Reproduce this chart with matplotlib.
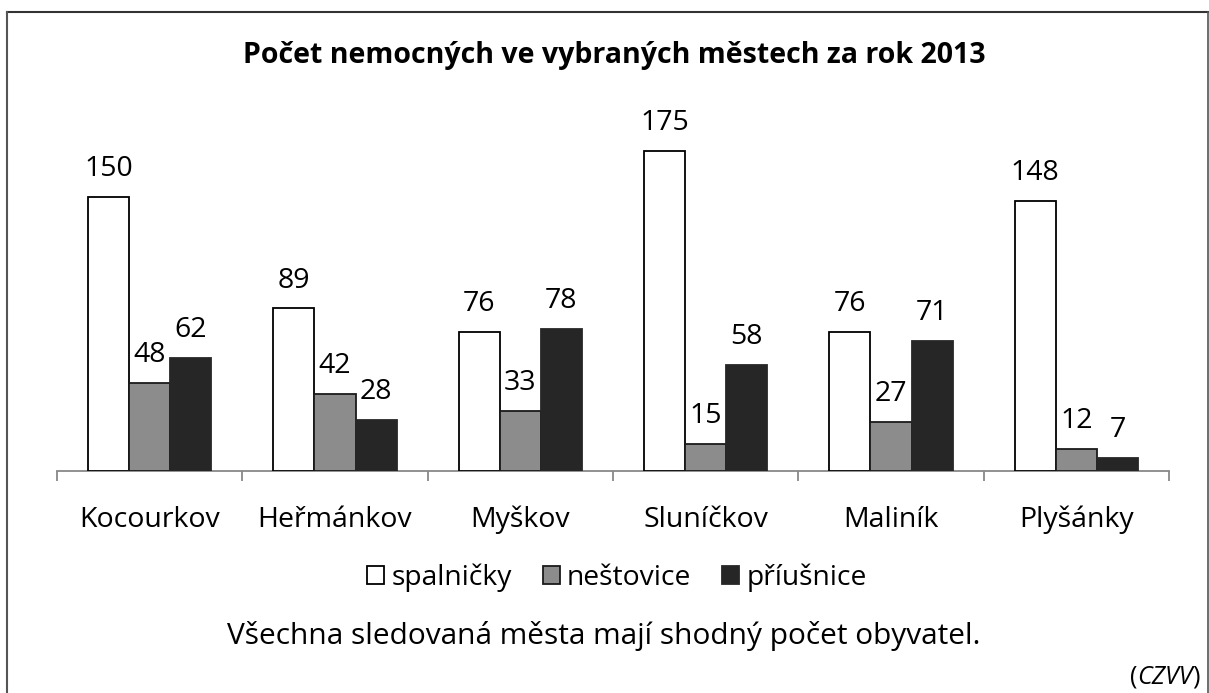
import numpy as np
import matplotlib
matplotlib.use("Agg")
import matplotlib.pyplot as plt
from matplotlib.lines import Line2D

# ---------------------------------------------------------------------------
# Data
# ---------------------------------------------------------------------------
mesta = ["Kocourkov", "Heřmánkov", "Myškov", "Sluníčkov", "Maliník", "Plyšánky"]
spalnicky = [150, 89, 76, 175, 76, 148]
nestovice = [48, 42, 33, 15, 27, 12]
priusnice = [62, 28, 78, 58, 71, 7]
nemoci = ["spalničky", "neštovice", "příušnice"]

TITLE = "Počet nemocných ve vybraných městech za rok 2013"
NOTE = "Všechna sledovaná města mají shodný počet obyvatel."

plt.rcParams["font.family"] = ["Open Sans", "DejaVu Sans"]
FS = 20.5

W, H = 1209, 693
fig = plt.figure(figsize=(W / 100, H / 100), dpi=100)

ax_left, ax_right, ax_base = 57, 1169, 471
ymax = 200
px_per_unit = 274 / 150
ax_h = ymax * px_per_unit
ax = fig.add_axes([ax_left / W, (H - ax_base) / H,
                   (ax_right - ax_left) / W, ax_h / H])

x = np.arange(len(mesta))
bw = 0.222
series = [
    (spalnicky, "white", "black"),
    (nestovice, "#8c8c8c", "#1a1a1a"),
    (priusnice, "#262626", "#262626"),
]
handles = []
for i, (vals, fc, ec) in enumerate(series):
    bars = ax.bar(x + (i - 1) * bw, vals, bw, color=fc, edgecolor=ec,
                  linewidth=1.3, label=nemoci[i], zorder=3)
    handles.append(bars)
    for b, v in zip(bars, vals):
        ax.annotate(str(v), (b.get_x() + b.get_width() / 2, v),
                    xytext=(0, 15), textcoords="offset points",
                    ha="center", va="baseline", fontsize=FS)

ax.set_xlim(-0.5, len(mesta) - 0.5)
ax.set_ylim(0, ymax)
for s in ["top", "right", "left"]:
    ax.spines[s].set_visible(False)
ax.spines["bottom"].set_color("#888888")
ax.spines["bottom"].set_linewidth(1.3)
ax.set_yticks([])
ax.set_xticks(np.arange(len(mesta) + 1) - 0.5)
ax.set_xticklabels([])
ax.tick_params(axis="x", which="major", direction="out", length=7.5,
               width=1.3, color="#888888")
ax.set_xticks(x, minor=True)
ax.set_xticklabels(mesta, minor=True, fontsize=FS)
ax.tick_params(axis="x", which="minor", length=0, pad=40)
for lbl in ax.get_xticklabels(minor=True):
    lbl.set_va("baseline")

# titulek a poznamky
fig.text(614 / W, 1 - 55 / H, TITLE, ha="center", va="center",
         fontsize=FS, fontweight="bold")

leg = fig.legend(handles=handles, labels=nemoci, loc="center",
                 bbox_to_anchor=(617 / W, 1 - 578 / H), ncol=3, frameon=False,
                 fontsize=20.3, handlelength=0.6, handleheight=0.6,
                 handletextpad=0.25, columnspacing=1.1)

fig.text(604 / W, 1 - 636 / H, NOTE, ha="center", va="center", fontsize=21.5)

# (CZVV) - zavorky rovne, zkratka kurzivou
fig.canvas.draw()
r = fig.canvas.get_renderer()
xr = 1200 / W
yb = 1 - 677 / H
for txt, style in [(")", "normal"), ("CZVV", "italic"), ("(", "normal")]:
    t = fig.text(xr, yb, txt, ha="right", va="center", fontsize=18,
                 style=style)
    bb = t.get_window_extent(renderer=r)
    xr = bb.x0 / W

# ramecek
fig.add_artist(Line2D([7 / W, 1], [1 - 12 / H, 1 - 12 / H],
                      transform=fig.transFigure, color="#333333", lw=1.5))
fig.add_artist(Line2D([7 / W, 7 / W], [0, 1 - 12 / H],
                      transform=fig.transFigure, color="#555555", lw=1.5))
fig.add_artist(Line2D([1207.5 / W, 1207.5 / W], [0, 1 - 12 / H],
                      transform=fig.transFigure, color="#555555", lw=1.2))

fig.savefig("out.png", dpi=100)
